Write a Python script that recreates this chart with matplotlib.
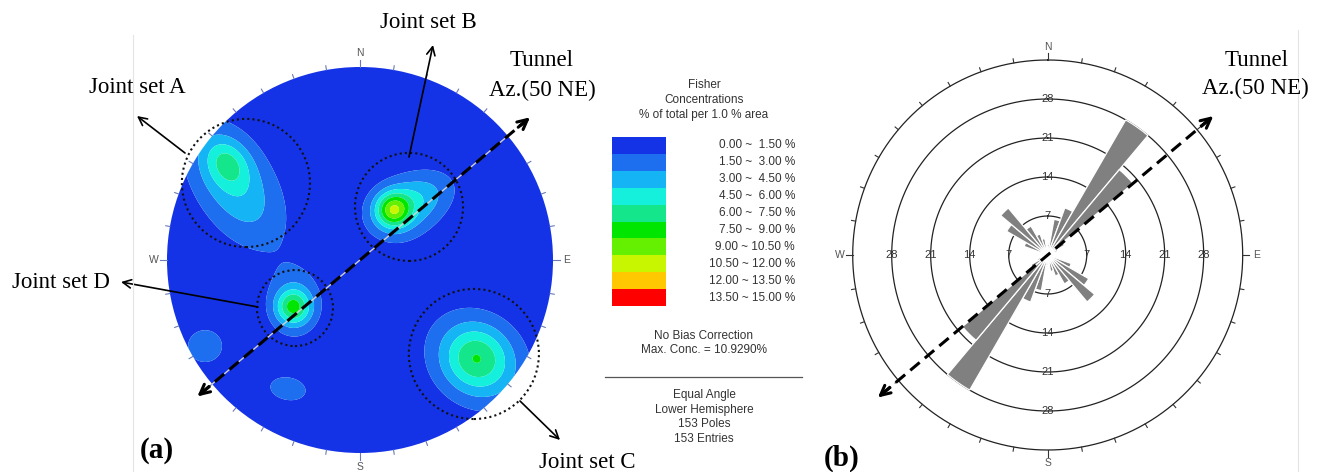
import numpy as np
import matplotlib
matplotlib.use("Agg")
import matplotlib.pyplot as plt
from matplotlib.patches import Circle, Rectangle
from matplotlib.lines import Line2D

plt.rcParams['font.family'] = ['Liberation Sans', 'DejaVu Sans']

# ------------------------------------------------------------------ data
# Fisher concentration classes (% of total per 1.0 % area)
conc_levels = [0.0, 1.5, 3.0, 4.5, 6.0, 7.5, 9.0, 10.5, 12.0, 13.5, 15.0]
conc_colors = ['#1432e6', '#1e6ef0', '#14b4f5', '#14f0dc', '#14e68c',
               '#00e600', '#64f000', '#c8f500', '#ffc800', '#ff0000']

# pole-concentration clusters on the stereonet (unit-circle coords)
#            A-core  A-broad B-core  B-tail  B-broad D-core  D-broad C-core  C-broad small1  small2
cl_x    = [-0.689, -0.648, 0.171, 0.285, 0.207, -0.347, -0.337, 0.601, 0.611, -0.803, -0.373]
cl_y    = [ 0.503,  0.389, 0.259, 0.311, 0.233, -0.244, -0.223, -0.508, -0.518, -0.446, -0.668]
cl_peak = [ 3.2,    4.2,   7.0,   3.5,   1.5,    5.5,    2.8,    2.6,    5.0,    2.2,    2.2]
cl_smaj = [ 0.093,  0.259, 0.062, 0.155, 0.155,  0.062,  0.135,  0.104,  0.187,  0.100,  0.104]
cl_smin = [ 0.073,  0.145, 0.062, 0.093, 0.155,  0.062,  0.104,  0.104,  0.155,  0.094,  0.065]
cl_ang  = [-56,    -58,    0,     25,    0,      0,      90,     0,     -40,     0,     -10]

# joint set outlines (unit-circle coords)
js_x = [-0.591, 0.254, 0.590, -0.337]
js_y = [ 0.399, 0.275, -0.487, -0.249]
js_r = [ 0.332, 0.280, 0.337, 0.197]

# rose diagram: strike bins (deg) and counts, bidirectional
rose_bins = [0, 10, 20, 30, 40, 50, 60, 70, 80, 90, 100, 110, 120, 130, 140, 150, 160, 170]
rose_counts = [2.0, 6.5, 9.0, 28.0, 20.0, 3.5, 2.0, 1.0, 1.0,
               1.0, 1.5, 4.5, 8.5, 11.0, 6.0, 4.0, 3.0, 1.5]
rose_rings = [7, 14, 21, 28]
rose_rmax = 35

tunnel_az = 50
legend_title = "Fisher\nConcentrations\n% of total per 1.0 % area"
info1 = "No Bias Correction\nMax. Conc. = 10.9290%"
info2 = ["Equal Angle", "Lower Hemisphere", "153 Poles", "153 Entries"]

# ------------------------------------------------------------------ layout
W, H = 1320, 472
CX, CY, R = 360, 260, 193          # stereonet centre/radius in px
fig = plt.figure(figsize=(W / 100, H / 100), dpi=100)

def ff(x, y):
    return (x / W, 1 - y / H)

serif = ['Liberation Serif', 'DejaVu Serif']

# main axes in stereonet unit coordinates
ax = fig.add_axes([0, 0, 1, 1])
ax.set_xlim(-CX / R, (W - CX) / R)
ax.set_ylim(-(H - CY) / R, CY / R)
ax.set_aspect('equal')
ax.axis('off')

# faint panel borders
fig.add_artist(Line2D([133 / W, 133 / W], [0, 1 - 35 / H], transform=fig.transFigure,
                      color='#e4e4e4', lw=0.8))
fig.add_artist(Line2D([1298 / W, 1298 / W], [0, 1 - 30 / H], transform=fig.transFigure,
                      color='#e4e4e4', lw=0.8))

# density field
g = np.linspace(-1.05, 1.05, 601)
X, Y = np.meshgrid(g, g)
Z = np.zeros_like(X)
for x0, y0, p, sa, sb, a in zip(cl_x, cl_y, cl_peak, cl_smaj, cl_smin, cl_ang):
    t = np.deg2rad(a)
    dx, dy = X - x0, Y - y0
    u = dx * np.cos(t) + dy * np.sin(t)
    v = -dx * np.sin(t) + dy * np.cos(t)
    Z += p * np.exp(-0.5 * ((u / sa) ** 2 + (v / sb) ** 2))
cs = ax.contourf(X, Y, Z, levels=conc_levels, colors=conc_colors, antialiased=True)
clip = Circle((0, 0), 1.0, transform=ax.transData, facecolor='none', edgecolor='none')
ax.add_patch(clip)
cs.set_clip_path(clip)

# ticks around the primitive
for az in range(0, 360, 10):
    t = np.deg2rad(az)
    L = 1.035 if az % 90 == 0 else 1.022
    ax.plot([np.sin(t) * 1.0, np.sin(t) * L], [np.cos(t) * 1.0, np.cos(t) * L],
            color='#6b7bb5', lw=0.8)
for lab, az in zip(['N', 'E', 'S', 'W'], [0, 90, 180, 270]):
    t = np.deg2rad(az)
    ax.text(np.sin(t) * 1.07, np.cos(t) * 1.07, lab, ha='center', va='center',
            fontsize=7.5, color='#555555')

# joint set dotted circles
for x0, y0, r0 in zip(js_x, js_y, js_r):
    ax.add_patch(Circle((x0, y0), r0, fill=False, ls=(0, (1, 1.5)), lw=1.5, color='#111111'))

# tunnel axis on stereonet
ta = np.deg2rad(tunnel_az)
ax.plot([-np.sin(ta), np.sin(ta)], [-np.cos(ta), np.cos(ta)], color='#d0d0d0', lw=1.0, zorder=4)
ax.plot([-np.sin(ta) * 1.08, np.sin(ta) * 1.12], [-np.cos(ta) * 1.08, np.cos(ta) * 1.12],
        color='k', lw=2.2, dashes=(4, 2.2), zorder=5)
for s, rr in [(1, 1.15), (-1, 1.10)]:
    ax.annotate('', xy=(s * np.sin(ta) * rr, s * np.cos(ta) * rr),
                xytext=(s * np.sin(ta) * (rr - 0.08), s * np.cos(ta) * (rr - 0.08)),
                arrowprops=dict(arrowstyle='->,head_length=0.7,head_width=0.35', lw=2.2,
                                color='k', shrinkA=0, shrinkB=0), zorder=6)

# joint set labels and arrows
labels = [("Joint set A", (137, 87), (185, 153), (137, 116)),
          ("Joint set B", (428, 22), (409, 157), (433, 45)),
          ("Joint set D", (61, 282), (258, 307), (121, 282)),
          ("Joint set C", (587, 463), (520, 401), (560, 440))]
for txt, tp, p0, p1 in labels:
    fig.text(*ff(*tp), txt, ha='center', va='center', fontsize=16.5, family=serif)
    ax.annotate('', xy=ff(*p1), xytext=ff(*p0), xycoords='figure fraction',
                textcoords='figure fraction',
                arrowprops=dict(arrowstyle='->,head_length=0.6,head_width=0.3', lw=1.2,
                                color='k', shrinkA=0, shrinkB=0))
fig.text(*ff(542, 60), "Tunnel", ha='center', va='center', fontsize=16.5, family=serif)
fig.text(*ff(542, 90), "Az.(50 NE)", ha='center', va='center', fontsize=16.5, family=serif)
fig.text(*ff(157, 450), "(a)", ha='center', va='center', fontsize=21, fontweight='bold', family=serif)
fig.text(*ff(842, 458), "(b)", ha='center', va='center', fontsize=21, fontweight='bold', family=serif)

# ------------------------------------------------------------------ legend
fig.text(*ff(704, 100), legend_title, ha='center', va='center', fontsize=8.5,
         color='#333333', linespacing=1.35)
ax_l = fig.add_axes([612 / W, 1 - 306 / H, 54 / W, 169 / H])
for i, c in enumerate(conc_colors):
    ax_l.add_patch(Rectangle((0, i), 1, 1, color=c, lw=0))
ax_l.set_xlim(0, 1)
ax_l.set_ylim(len(conc_colors), 0)
ax_l.axis('off')
step = 169 / len(conc_colors)
for i in range(len(conc_colors)):
    lo, hi = conc_levels[i], conc_levels[i + 1]
    fig.text(*ff(795, 137 + step * (i + 0.5)), f"{lo:.2f} ~ {hi:5.2f} %", ha='right',
             va='center', fontsize=8.5, color='#333333')
fig.text(*ff(704, 343), info1, ha='center', va='center', fontsize=8.5, color='#333333',
         linespacing=1.3)
fig.add_artist(Line2D([605 / W, 802 / W], [1 - 377 / H] * 2, transform=fig.transFigure,
                      color='#555555', lw=0.9))
for k, s in enumerate(info2):
    fig.text(*ff(704, 395 + 14.5 * k), s, ha='center', va='center', fontsize=8.5,
             color='#333333')

# ------------------------------------------------------------------ rose diagram
RCX, RCY, RR = 1047.7, 255, 195
ax_r = fig.add_axes([(RCX - RR) / W, (H - RCY - RR) / H, 2 * RR / W, 2 * RR / H],
                    projection='polar')
ax_r.set_theta_zero_location('N')
ax_r.set_theta_direction(-1)
ax_r.set_ylim(0, rose_rmax)
ax_r.axis('off')

th = np.linspace(0, 2 * np.pi, 721)
for r in rose_rings + [rose_rmax]:
    ax_r.plot(th, np.full_like(th, r), color='#222222', lw=0.9, zorder=1, clip_on=False)

bins = np.array(rose_bins, dtype=float)
cnts = np.array(rose_counts)
ax_r.bar(np.deg2rad(np.r_[bins, bins + 180]), np.r_[cnts, cnts], width=np.deg2rad(10),
         align='edge', color='#808080', edgecolor='white', linewidth=0.9, zorder=2)

for r in rose_rings:
    for a in (0, 90, 180, 270):
        ax_r.text(np.deg2rad(a), r, str(r), ha='center', va='center', fontsize=8,
                  color='#333333', zorder=3)

for az in range(0, 360, 10):
    t = np.deg2rad(az)
    L = rose_rmax + (1.2 if az % 90 == 0 else 0.75)
    ax_r.plot([t, t], [rose_rmax, L], color='#333333', lw=0.8, clip_on=False)
for lab, az in zip(['N', 'E', 'S', 'W'], [0, 90, 180, 270]):
    ax_r.text(np.deg2rad(az), rose_rmax + 2.4, lab, ha='center', va='center',
              fontsize=7.5, color='#555555')

tr = np.deg2rad(tunnel_az)
tb = np.deg2rad(tunnel_az + 180)
ax_r.plot([tb, tr], [39.0, 38.0], color='k', lw=2.2, dashes=(4, 2.2), clip_on=False, zorder=5)
for t, r in [(tr, 38.8), (tb, 39.8)]:
    ax_r.annotate('', xy=(t, r), xytext=(t, r - 2.8),
                  arrowprops=dict(arrowstyle='->,head_length=0.7,head_width=0.35', lw=2.2,
                                  color='k', shrinkA=0, shrinkB=0),
                  annotation_clip=False, zorder=6)
fig.text(*ff(1257, 60), "Tunnel", ha='center', va='center', fontsize=16.5, family=serif)
fig.text(*ff(1255, 88), "Az.(50 NE)", ha='center', va='center', fontsize=16.5, family=serif)

fig.savefig("out.png", dpi=100)
